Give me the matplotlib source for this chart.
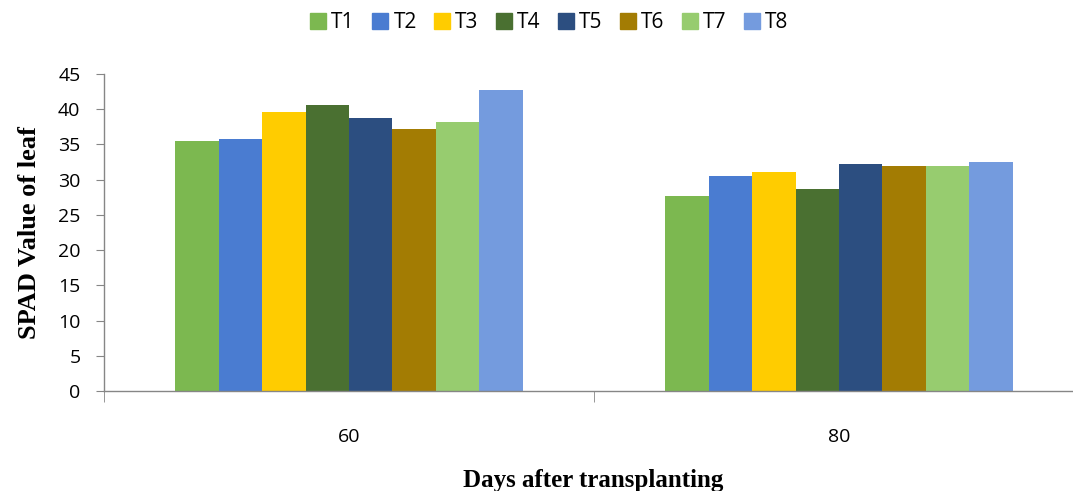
import numpy as np
import matplotlib
matplotlib.use("Agg")
import matplotlib.pyplot as plt

# SPAD readings per treatment
days = ["60", "80"]
treatments = ["T1", "T2", "T3", "T4", "T5", "T6", "T7", "T8"]
spad_60 = [35.5, 35.8, 39.6, 40.6, 38.8, 37.2, 38.2, 42.7]
spad_80 = [27.7, 30.5, 31.1, 28.7, 32.2, 31.9, 31.9, 32.5]
colors = ["#7CB850", "#4A7CD1", "#FFCC00", "#4A7031",
          "#2C4E80", "#A37C03", "#97CC6F", "#749BDE"]


def main():
    fig = plt.figure(figsize=(10.73, 4.91), dpi=100)
    ax = fig.add_axes([104 / 1073, 1 - 391 / 491, 980 / 1073, 317 / 491])

    x = np.arange(len(days))
    n = len(treatments)
    width = 0.71 / n
    values = np.array([spad_60, spad_80])
    for i, (name, col) in enumerate(zip(treatments, colors)):
        offs = (i - (n - 1) / 2) * width
        ax.bar(x + offs, values[:, i], width, color=col, label=name)

    ax.set_xlim(-0.5, 1.5)
    ax.set_ylim(0, 45)
    ax.set_yticks(range(0, 46, 5))
    ax.set_xticks(x)
    ax.set_xticklabels(days)
    ax.set_xticks([-0.5, 0.5, 1.5], minor=True)

    for side in ("top", "right"):
        ax.spines[side].set_visible(False)
    for side in ("left", "bottom"):
        ax.spines[side].set_color("#868686")
        ax.spines[side].set_linewidth(1.0)

    tick_font = {"family": "Open Sans", "size": 14}
    ax.tick_params(axis="y", length=6, color="#868686", pad=11)
    ax.tick_params(axis="x", which="major", length=0, pad=27)
    ax.tick_params(axis="x", which="minor", length=8, color="#868686")
    for lab in ax.get_xticklabels() + ax.get_yticklabels():
        lab.set_fontfamily(tick_font["family"])
        lab.set_fontsize(tick_font["size"])

    ax.set_ylabel("SPAD Value of leaf", family="Liberation Serif",
                  fontweight="bold", fontsize=19, labelpad=12)
    fig.text(593 / 1073, 1 - 481 / 491, "Days after transplanting",
             family="Liberation Serif", fontweight="bold", fontsize=18,
             ha="center", va="center")

    handles = [plt.Line2D([], [], marker="s", linestyle="", markersize=11.5,
                          color=c) for c in colors]
    fig.legend(handles, treatments, loc="center", ncol=n,
               bbox_to_anchor=(548 / 1073, 1 - 23 / 491), frameon=False,
               prop={"family": "Open Sans", "size": 15}, handletextpad=0.15,
               columnspacing=0.7, handlelength=1.0)

    fig.savefig("out.png", dpi=100)


if __name__ == "__main__":
    main()
